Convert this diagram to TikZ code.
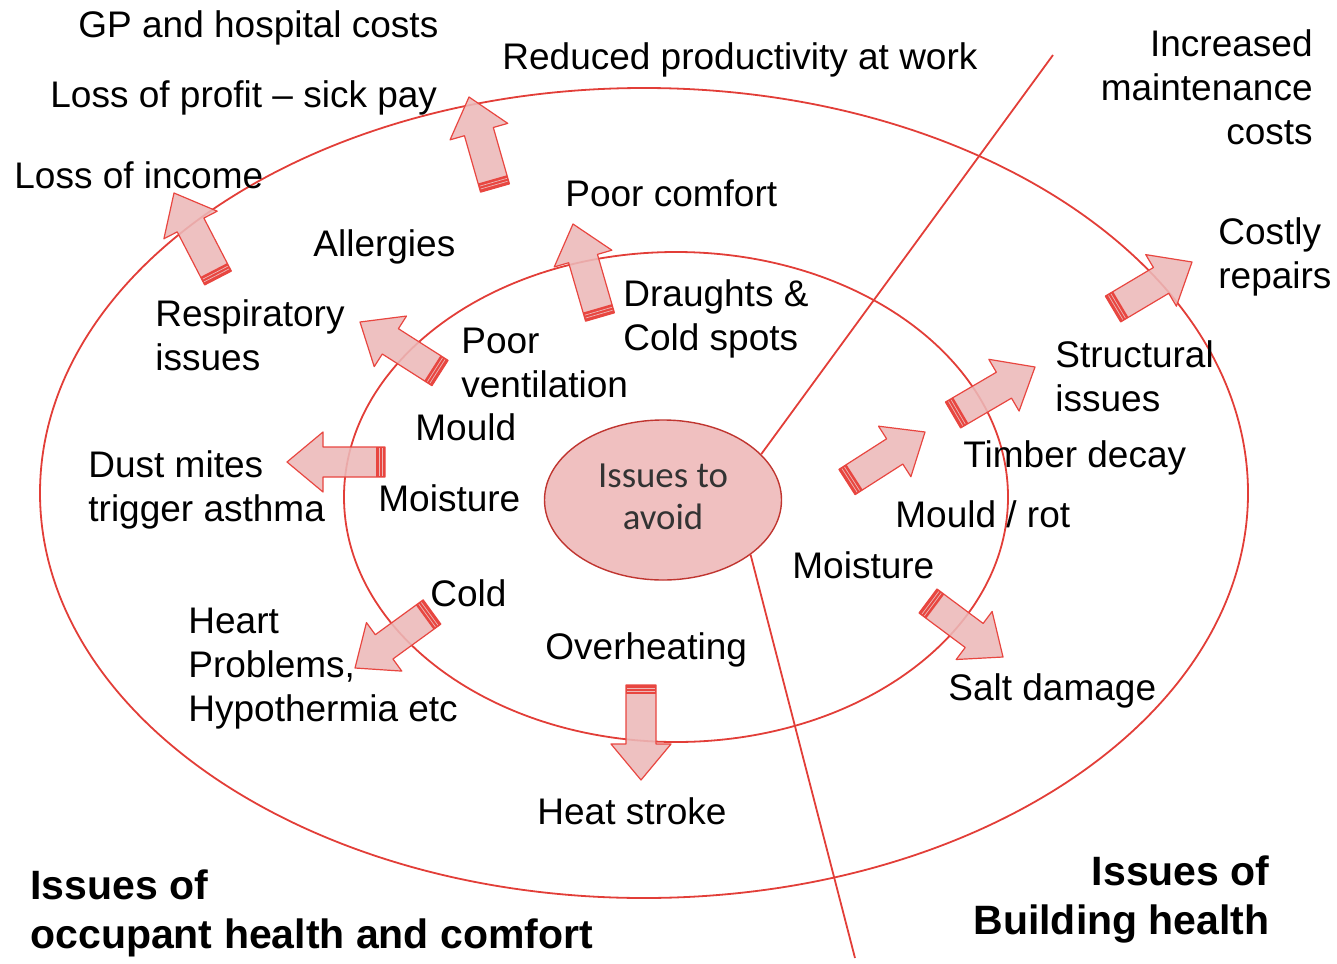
\documentclass[tikz,border=0pt]{standalone}
\usepackage{fontspec}
\setmainfont{Liberation Sans}
\newfontfamily\calibrifont{Carlito}
\usetikzlibrary{shapes.geometric,calc}
\definecolor{ringred}{RGB}{226,62,56}
\definecolor{arrowred}{RGB}{232,70,64}
\definecolor{arrowpink}{RGB}{236,184,184}
\definecolor{hubpink}{RGB}{240,192,192}

% block arrow with a striped tail, from tail point #1 to tip #2
\newcommand{\issuearrow}[2]{
  \coordinate (neck) at ($(#2)!18pt!(#1)$);
  \fill[arrowpink, fill opacity=0.88]
    ($(#1)!7.5pt!90:(#2)$) -- ($(neck)!7.5pt!90:(#2)$) -- ($(neck)!15pt!90:(#2)$)
    -- (#2) -- ($(neck)!15pt!-90:(#2)$) -- ($(neck)!7.5pt!-90:(#2)$)
    -- ($(#1)!7.5pt!-90:(#2)$) -- cycle;
  \draw[arrowred, line width=0.6pt, line join=round]
    ($(#1)!7.5pt!90:(#2)$) -- ($(neck)!7.5pt!90:(#2)$) -- ($(neck)!15pt!90:(#2)$)
    -- (#2) -- ($(neck)!15pt!-90:(#2)$) -- ($(neck)!7.5pt!-90:(#2)$)
    -- ($(#1)!7.5pt!-90:(#2)$) -- cycle;
  \coordinate (band) at ($(#1)!4.5pt!(#2)$);
  \fill[arrowred] ($(#1)!7.5pt!90:(#2)$) -- ($(band)!7.5pt!90:(#2)$)
    -- ($(band)!7.5pt!-90:(#2)$) -- ($(#1)!7.5pt!-90:(#2)$) -- cycle;
  \foreach \t in {1.5pt,3pt}
    \draw[arrowpink, line width=0.35pt]
      ($($(#1)!\t!(#2)$)!7pt!90:(#2)$) -- ($($(#1)!\t!(#2)$)!7pt!-90:(#2)$);
}

\begin{document}
\begin{tikzpicture}[
  x=0.5pt, y=-0.5pt,
  ring/.style={draw=ringred, line width=0.9pt, ellipse, inner sep=0pt},
  lbl/.style={inner sep=0pt, align=left, font=\fontsize{18.5}{22}\selectfont},
  head/.style={inner sep=0pt, align=left, font=\fontsize{20.5}{24.5}\selectfont\bfseries},
  hub/.style={draw=ringred!85!black, line width=0.7pt, fill=hubpink, ellipse,
    minimum width=118.5pt, minimum height=80pt, inner sep=0pt, align=center,
    font=\fontsize{18.4}{21}\calibrifont\color{black!80}}
]
\useasboundingbox (0,0) rectangle (1337,963);

% rings
\node[ring, minimum width=604pt, minimum height=405pt] (outer) at (644,493) {};
\node[ring, minimum width=332pt, minimum height=245pt] (inner) at (676,497) {};

% centre and dividing line
\node[hub] (avoid) at (663,500) {\raisebox{3pt}{Issues to}\\\raisebox{3pt}{avoid}};
\coordinate (divtop) at (1053,55);
\coordinate (divbot) at (855,958);
\draw[ringred, line width=0.9pt] (avoid.25) -- (divtop);
\draw[ringred, line width=0.9pt] (avoid.-32) -- (divbot);

% occupant side
\node[lbl, anchor=west] (gp) at (78,28) {GP and hospital costs};
\node[lbl, anchor=west] (prod) at (502,60) {Reduced productivity at work};
\node[lbl, anchor=west] (profit) at (50,98) {Loss of profit -- sick pay};
\node[lbl, anchor=west] (income) at (14,175) {Loss of income};
\node[lbl, anchor=west] (comfort) at (565,193) {Poor comfort};
\node[lbl, anchor=west] (allerg) at (313,247) {Allergies};
\node[lbl, anchor=west] (draught) at (623,319) {Draughts \&\\Cold spots};
\node[lbl, anchor=west] (resp) at (155,335) {Respiratory\\issues};
\node[lbl, anchor=west] (vent) at (461,363) {Poor\\ventilation};
\node[lbl, anchor=west] (mould) at (415,427) {Mould};
\node[lbl, anchor=west] (mites) at (88,490) {Dust mites\\trigger asthma};
\node[lbl, anchor=west] (moistl) at (378,498) {Moisture};
\node[lbl, anchor=west] (cold) at (430,593) {Cold};
\node[lbl, anchor=west] (heart) at (188,669) {Heart\\Problems,\\Hypothermia etc};
\node[lbl, anchor=west] (overheat) at (545,650) {Overheating};
\node[lbl, anchor=west] (stroke) at (537,811) {Heat stroke};

% building side
\node[lbl, anchor=east, align=right] (maint) at (1313,87) {Increased\\maintenance\\costs};
\node[lbl, anchor=west] (repairs) at (1218,257) {Costly\\repairs};
\node[lbl, anchor=west] (struct) at (1055,376) {Structural\\issues};
\node[lbl, anchor=west] (timber) at (963,458) {Timber decay};
\node[lbl, anchor=west] (rot) at (895,514) {Mould / rot};
\node[lbl, anchor=west] (moistr) at (792,565) {Moisture};
\node[lbl, anchor=west] (salt) at (948,691) {Salt damage};

% headings
\node[head, anchor=west] (occhead) at (30,913) {Issues of\\occupant health and comfort};
\node[head, anchor=east, align=right] (bldhead) at (1270,899) {Issues of\\Building health};

% arrows
\issuearrow{218,278}{174,193}
\issuearrow{495,188}{469,97}
\issuearrow{600,317}{573,224}
\issuearrow{440,373}{360,322}
\issuearrow{385,462}{287,462}
\issuearrow{432,612}{355,668}
\issuearrow{641,685}{641,780}
\issuearrow{928,601}{1003,657}
\issuearrow{847,482}{925,432}
\issuearrow{953,415}{1035,367}
\issuearrow{1113,309}{1192,262}
\end{tikzpicture}
\end{document}
